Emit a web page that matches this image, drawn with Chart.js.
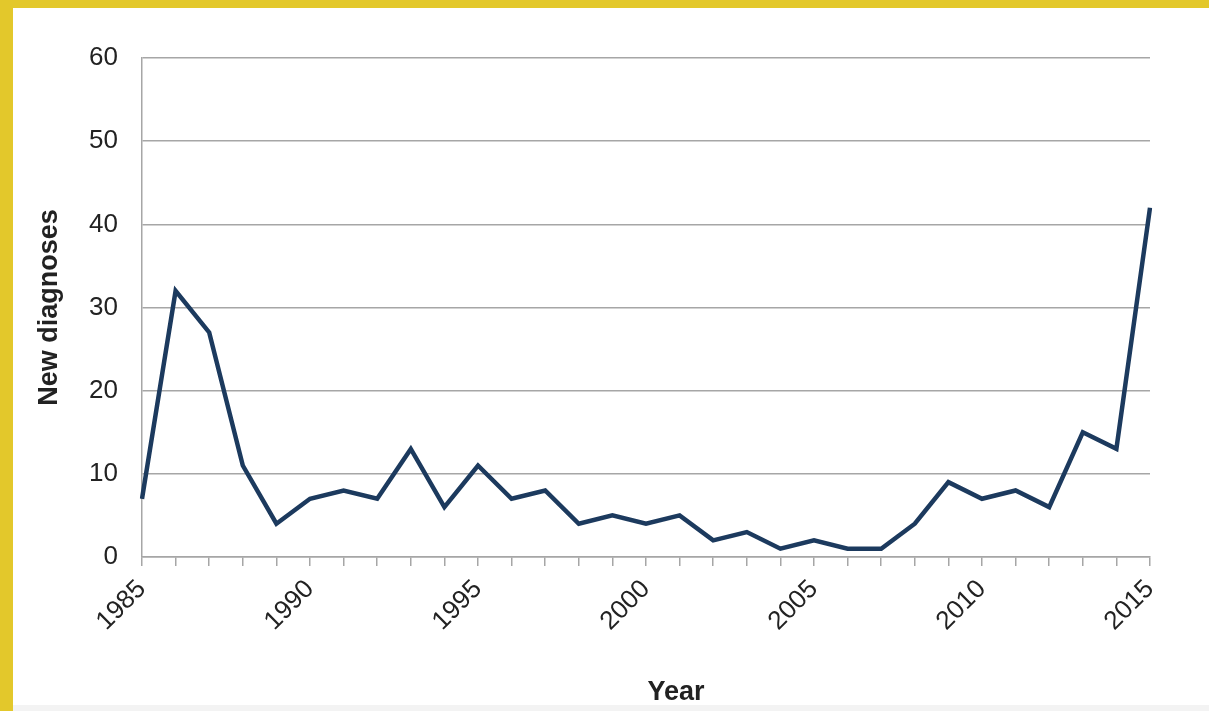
<!DOCTYPE html>
<html>
<head>
<meta charset="utf-8">
<script src="https://cdn.jsdelivr.net/npm/chart.js@4"></script>
<style>
  html, body { margin: 0; padding: 0; }
  body { background: #e3c82b; width: 1209px; height: 711px; overflow: hidden; position: relative; }
  #panel { position: absolute; left: 13px; top: 8px; width: 1196px; height: 697px; background: #fff; }
  #chart-wrap { position: absolute; left: 0; top: 0; width: 1196px; height: 701px; }
  #foot { position: absolute; left: 13px; top: 705px; width: 1196px; height: 6px; background: #f3f3f3; }
</style>
</head>
<body>
<div id="panel"><div id="chart-wrap"><canvas id="c"></canvas></div></div>
<div id="foot"></div>
<script>
// Data
const years = [];
for (let y = 1985; y <= 2015; y++) years.push(String(y));

const newDiagnoses = [7, 32, 27, 11, 4, 7, 8, 7, 13, 6, 11, 7, 8, 4, 5, 4, 5, 2, 3, 1, 2, 1, 1, 4, 9, 7, 8, 6, 15, 13, 42];

const shownYears = ['1985', '1990', '1995', '2000', '2005', '2010', '2015'];

const colors = {
    line: '#1c3a5e',
    grid: '#a6a6a6',
    text: '#222222'
};

const fontFamily = 'Liberation Sans, Arial, sans-serif';

const ctx = document.getElementById('c').getContext('2d');
new Chart(ctx, {
    type: 'line',
    data: {
        labels: years,
        datasets: [{
            label: 'New diagnoses',
            data: newDiagnoses,
            borderColor: colors.line,
            borderWidth: 4.5,
            pointRadius: 0,
            tension: 0,
            fill: false
        }]
    },
    options: {
        responsive: true,
        maintainAspectRatio: false,
        animation: false,
        layout: { padding: { top: 50, right: 59, bottom: 0, left: 0 } },
        plugins: {
            legend: { display: false },
            tooltip: { enabled: false }
        },
        scales: {
            x: {
                type: 'category',
                offset: false,
                grid: { drawOnChartArea: false, drawTicks: true, tickLength: 9, color: colors.grid, lineWidth: 1.5 },
                border: { color: colors.grid, width: 1.5 },
                ticks: {
                    autoSkip: false,
                    maxRotation: 45,
                    minRotation: 45,
                    padding: 8,
                    color: colors.text,
                    font: { family: fontFamily, size: 26 },
                    callback: function (value) {
                        const lbl = this.getLabelForValue(value);
                        return shownYears.includes(lbl) ? lbl : '';
                    }
                },
                title: {
                    display: true,
                    text: '\u00a0\u00a0\u00a0\u00a0\u00a0\u00a0\u00a0\u00a0Year',
                    color: colors.text,
                    font: { family: fontFamily, size: 27, weight: 'bold' },
                    padding: { top: 40, bottom: 0 }
                },
                afterFit: function (scale) { scale.height = 152; }
            },
            y: {
                min: 0,
                max: 60,
                ticks: {
                    stepSize: 10,
                    padding: 24,
                    color: colors.text,
                    font: { family: fontFamily, size: 26 }
                },
                grid: { drawTicks: false, color: colors.grid, lineWidth: 1.5 },
                border: { color: colors.grid, width: 1.5 },
                title: {
                    display: true,
                    text: 'New diagnoses',
                    color: colors.text,
                    font: { family: fontFamily, size: 27, weight: 'bold' },
                    padding: { top: 20, bottom: 0 }
                },
                afterFit: function (scale) { scale.width = 129; }
            }
        }
    }
});
</script>
</body>
</html>
